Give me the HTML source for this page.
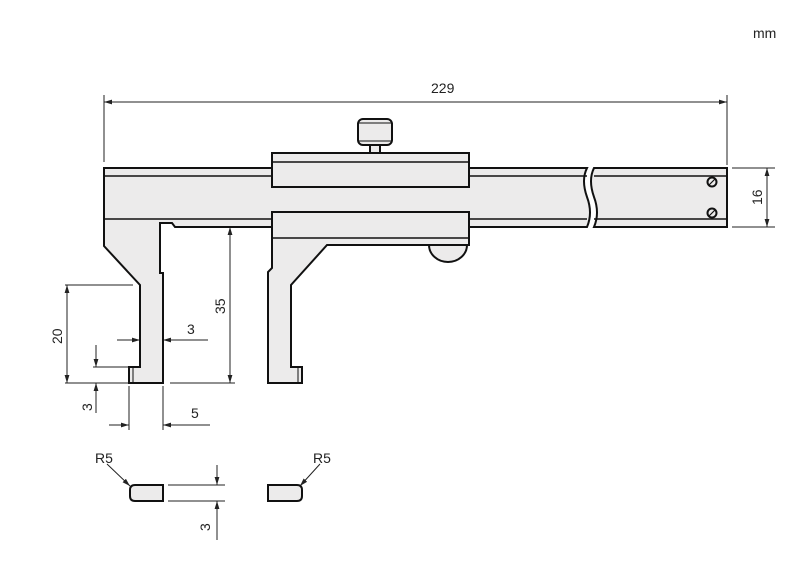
<!DOCTYPE html>
<html><head><meta charset="utf-8"><style>
html,body{margin:0;padding:0;background:#fff;width:800px;height:578px;overflow:hidden}
text{font-family:"Liberation Sans",sans-serif;font-size:14px;fill:#222}
</style></head><body>
<svg width="800" height="578" viewBox="0 0 800 578" xmlns="http://www.w3.org/2000/svg">
<defs>
<marker id="a" viewBox="0 0 10 10" refX="10" refY="5" markerWidth="8" markerHeight="8" orient="auto-start-reverse" markerUnits="userSpaceOnUse"><path d="M0,2 L10,5 L0,8 z" fill="#222"/></marker>
</defs>
<text x="753" y="38">mm</text>
<g stroke="#222" stroke-width="1" fill="none">
<!-- 229 -->
<line x1="104" y1="95" x2="104" y2="162"/><line x1="727" y1="95" x2="727" y2="165"/>
<line x1="104" y1="102" x2="727" y2="102" marker-start="url(#a)" marker-end="url(#a)"/>
<!-- 16 -->
<line x1="732" y1="168" x2="775" y2="168"/><line x1="732" y1="227" x2="775" y2="227"/>
<line x1="767" y1="168" x2="767" y2="227" marker-start="url(#a)" marker-end="url(#a)"/>
<!-- 35 -->
<line x1="230" y1="227" x2="230" y2="383" marker-start="url(#a)" marker-end="url(#a)"/>
<line x1="170" y1="383" x2="235" y2="383"/>
<!-- 20 -->
<line x1="65" y1="285" x2="133" y2="285"/><line x1="65" y1="383" x2="128" y2="383"/>
<line x1="67" y1="285" x2="67" y2="383" marker-start="url(#a)" marker-end="url(#a)"/>
<!-- 3 width -->
<line x1="117" y1="340" x2="140" y2="340" marker-end="url(#a)"/>
<line x1="208" y1="340" x2="163" y2="340" marker-end="url(#a)"/>
<!-- 3 height -->
<line x1="93" y1="367" x2="129" y2="367"/>
<line x1="96" y1="345" x2="96" y2="367" marker-end="url(#a)"/>
<line x1="96" y1="413" x2="96" y2="383" marker-end="url(#a)"/>
<!-- 5 -->
<line x1="129" y1="386" x2="129" y2="430"/><line x1="163" y1="386" x2="163" y2="430"/>
<line x1="109" y1="425" x2="129" y2="425" marker-end="url(#a)"/>
<line x1="210" y1="425" x2="163" y2="425" marker-end="url(#a)"/>
<!-- bottom 3 -->
<line x1="168" y1="485" x2="225" y2="485"/><line x1="168" y1="501" x2="225" y2="501"/>
<line x1="217" y1="465" x2="217" y2="485" marker-end="url(#a)"/>
<line x1="217" y1="540" x2="217" y2="501" marker-end="url(#a)"/>
<!-- R5 leaders -->
<line x1="107" y1="464" x2="130" y2="486" marker-end="url(#a)"/>
<line x1="320" y1="464" x2="300" y2="486" marker-end="url(#a)"/>
</g>
<g stroke="#111" stroke-width="2" fill="#ecebeb" stroke-linejoin="miter">
<!-- beam + fixed jaw -->
<path d="M104,168 H587 Q581,180 587,197 Q593,213 587,227 H175 L172,223 H160 V273 H163 V383 H129 V367 H140 V285 L104,246 Z"/>
<path d="M594,168 H727 V227 H594 Q600,213 594,197 Q588,180 594,168 Z"/>
<line x1="104" y1="176" x2="587" y2="176" stroke-width="1.5"/>
<line x1="594" y1="176" x2="727" y2="176" stroke-width="1.5"/>
<line x1="104" y1="219" x2="587" y2="219" stroke-width="1.5"/>
<line x1="594" y1="219" x2="727" y2="219" stroke-width="1.5"/>
<line x1="133" y1="368" x2="133" y2="383" stroke-width="1"/>
<!-- knob -->
<rect x="370" y="143" width="10" height="11"/>
<rect x="358" y="119" width="34" height="26" rx="5"/>
<line x1="359" y1="123" x2="391" y2="123" stroke-width="1"/>
<line x1="359" y1="141" x2="391" y2="141" stroke-width="1"/>
<!-- upper slider -->
<rect x="272" y="153" width="197" height="34"/>
<line x1="272" y1="162" x2="469" y2="162" stroke-width="1.5"/>
<!-- semicircle -->
<path d="M429,245 A19,17 0 0 0 467,245 Z"/>
<!-- lower slider + moving jaw -->
<path d="M272,212 H469 V245 H327 L291,285 V367 H302 V383 H268 V272 L272,268 Z"/>
<line x1="272" y1="238" x2="469" y2="238" stroke-width="1.5"/>
<line x1="298" y1="368" x2="298" y2="383" stroke-width="1"/>
<!-- screws -->
<circle cx="712" cy="182" r="4.5"/><circle cx="712" cy="213" r="4.5"/>
<line x1="709" y1="185" x2="715" y2="179" stroke-width="1.2"/>
<line x1="709" y1="216" x2="715" y2="210" stroke-width="1.2"/>
<!-- tip sections -->
<path d="M135,485 H163 V501 H135 Q130,501 130,496 V490 Q130,485 135,485 Z"/>
<path d="M268,485 H297 Q302,485 302,490 V496 Q302,501 297,501 H268 Z"/>
</g>
<text x="431" y="93">229</text>
<text transform="translate(762,205) rotate(-90)">16</text>
<text transform="translate(225,314) rotate(-90)">35</text>
<text transform="translate(62,344) rotate(-90)">20</text>
<text x="187" y="334">3</text>
<text transform="translate(92,411) rotate(-90)">3</text>
<text x="191" y="418">5</text>
<text transform="translate(210,531) rotate(-90)">3</text>
<text x="95" y="463">R5</text>
<text x="313" y="463">R5</text>
</svg>
</body></html>
